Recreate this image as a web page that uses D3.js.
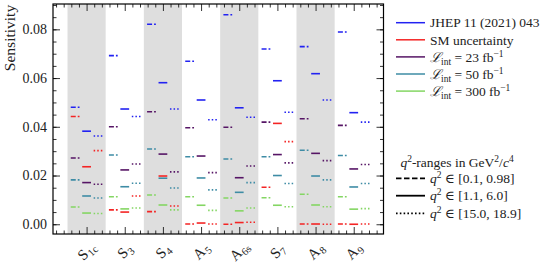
<!DOCTYPE html>
<html><head><meta charset="utf-8">
<script src="https://cdn.jsdelivr.net/npm/d3@7"></script>
<style>
html,body{margin:0;padding:0;background:#fff;}
svg{display:block;font-family:"Liberation Serif","DejaVu Serif",serif;}
</style></head>
<body><svg id="c" width="555" height="270"></svg>
<script>
// ---- data ----
const categories = ["S1c","S3","S4","A5","A6s","S7","A8","A9"];
const catMain = ["S","S","S","A","A","S","A","A"];
const catSub  = ["1c","3","4","5","6s","7","8","9"];
const yTicks = [0.00, 0.02, 0.04, 0.06, 0.08];
const qLabels = ["[0.1, 0.98]","[1.1, 6.0]","[15.0, 18.9]"];
const seriesNames = ["JHEP 11 (2021) 043","SM uncertainty","23","50","300"];
const seriesColors = ["#2222f2","#f42424","#561565","#3e8ca5","#84d663"];

const jhepLow  = [0.0480, 0.0692, 0.0821, 0.0669, 0.0860, 0.0719, 0.0729, 0.0789];
const jhepMid  = [0.0382, 0.0473, 0.0581, 0.0510, 0.0478, 0.0589, 0.0618, 0.0458];
const jhepHigh = [0.0362, 0.0442, 0.0473, 0.0429, 0.0439, 0.0460, 0.0510, 0.0419];
const smLow    = [0.0442, 0.0059, 0.0052, 0.0001, 0.0000, 0.0152, 0.0001, 0.0001];
const smMid    = [0.0236, 0.0050, 0.0198, 0.0005, 0.0007, 0.0414, 0.0001, 0.0000];
const smHigh   = [0.0302, 0.0116, 0.0075, 0.0001, 0.0008, 0.0339, 0.0000, 0.0001];
const l23Low   = [0.0272, 0.0400, 0.0462, 0.0396, 0.0398, 0.0419, 0.0433, 0.0406];
const l23Mid   = [0.0171, 0.0223, 0.0288, 0.0280, 0.0191, 0.0286, 0.0291, 0.0227];
const l23High  = [0.0164, 0.0247, 0.0215, 0.0212, 0.0239, 0.0252, 0.0261, 0.0245];
const l50Low   = [0.0182, 0.0284, 0.0309, 0.0277, 0.0268, 0.0277, 0.0304, 0.0282];
const l50Mid   = [0.0116, 0.0154, 0.0189, 0.0190, 0.0131, 0.0200, 0.0198, 0.0153];
const l50High  = [0.0108, 0.0168, 0.0149, 0.0141, 0.0171, 0.0167, 0.0182, 0.0167];
const l300Low  = [0.0071, 0.0113, 0.0120, 0.0113, 0.0108, 0.0109, 0.0123, 0.0113];
const l300Mid  = [0.0046, 0.0063, 0.0079, 0.0078, 0.0055, 0.0078, 0.0079, 0.0062];
const l300High = [0.0044, 0.0067, 0.0059, 0.0057, 0.0067, 0.0072, 0.0072, 0.0064];

const seriesData = [
  [jhepLow, jhepMid, jhepHigh],
  [smLow, smMid, smHigh],
  [l23Low, l23Mid, l23High],
  [l50Low, l50Mid, l50High],
  [l300Low, l300Mid, l300High]
];

// ---- layout ----
const L = 53, R = 383.5, T = 4, B = 234;
const qOffset = [-0.3, 0, 0.3];
const halfW = 0.115;
const dashes = ["5,2", null, "1.5,2.1"];

const svg = d3.select("#c");
const x = d3.scaleLinear().domain([-0.88, 7.78]).range([L, R]);
const y = d3.scaleLinear().domain([-0.004, 0.0904]).range([B, T]);

// shaded bands
svg.append("g").selectAll("rect")
  .data(categories.map((c,i)=>i).filter(i=>i%2===0))
  .join("rect")
  .attr("x", i=>x(i-0.5)).attr("width", i=>x(i+0.5)-x(i-0.5))
  .attr("y", T).attr("height", B-T)
  .attr("fill", "#dedede");

// segments
const segs = [];
seriesData.forEach((ranges, s) => {
  ranges.forEach((vals, q) => {
    vals.forEach((v, i) => segs.push({s, q, i, v}));
  });
});
svg.append("g").selectAll("line")
  .data(segs).join("line")
  .attr("x1", d=>x(d.i+qOffset[d.q]-halfW))
  .attr("x2", d=>x(d.i+qOffset[d.q]+halfW))
  .attr("y1", d=>y(d.v)).attr("y2", d=>y(d.v))
  .attr("stroke", d=>seriesColors[d.s])
  .attr("stroke-width", 1.6)
  .attr("stroke-dasharray", d=>dashes[d.q]);

// axes with inward ticks
const fmt = d3.format(".2f");
const yMinor = d3.range(0, 0.0905, 0.005);
const xMinor = d3.range(-0.8, 7.8, 0.2).filter(v=>Math.abs(v-Math.round(v))>0.01);
const xMajor = categories.map((c,i)=>i);

function ticks(g, axisGen) { g.call(axisGen); g.select(".domain").remove(); g.selectAll("line").attr("stroke","#000").attr("stroke-width",0.8); }

svg.append("g").attr("transform",`translate(${L},0)`)
  .call(g=>ticks(g, d3.axisRight(y).tickValues(yMinor).tickSize(3.5).tickFormat("")));
svg.append("g").attr("transform",`translate(${L},0)`)
  .call(g=>ticks(g, d3.axisRight(y).tickValues(yTicks).tickSize(7).tickFormat("")));
svg.append("g").attr("transform",`translate(${R},0)`)
  .call(g=>ticks(g, d3.axisLeft(y).tickValues(yMinor).tickSize(3.5).tickFormat("")));
svg.append("g").attr("transform",`translate(${R},0)`)
  .call(g=>ticks(g, d3.axisLeft(y).tickValues(yTicks).tickSize(7).tickFormat("")));
svg.append("g").attr("transform",`translate(0,${B})`)
  .call(g=>ticks(g, d3.axisTop(x).tickValues(xMinor).tickSize(3.5).tickFormat("")));
svg.append("g").attr("transform",`translate(0,${B})`)
  .call(g=>ticks(g, d3.axisTop(x).tickValues(xMajor).tickSize(7).tickFormat("")));
svg.append("g").attr("transform",`translate(0,${T})`)
  .call(g=>ticks(g, d3.axisBottom(x).tickValues(xMinor).tickSize(3.5).tickFormat("")));
svg.append("g").attr("transform",`translate(0,${T})`)
  .call(g=>ticks(g, d3.axisBottom(x).tickValues(xMajor).tickSize(7).tickFormat("")));

svg.append("rect").attr("x",L).attr("y",T).attr("width",R-L).attr("height",B-T)
  .attr("fill","none").attr("stroke","#000").attr("stroke-width",1.2);

// y tick labels
svg.append("g").selectAll("text").data(yTicks).join("text")
  .attr("x", L-6).attr("y", d=>y(d)).attr("dy","0.35em")
  .attr("text-anchor","end").attr("font-size",14).attr("fill","#222")
  .text(d=>fmt(d));

// y label
svg.append("text").attr("transform","translate(15,38) rotate(-90)")
  .attr("text-anchor","middle").attr("font-size",15.5).attr("fill","#222")
  .text("Sensitivity");

// x tick labels (rotated 45 degrees), upright font
const xlab = svg.append("g");
xMajor.forEach(i => {
  const m = xlab.append("text")
    .attr("font-size",15).attr("fill","#222").text(catMain[i]);
  const mw = m.node().getComputedTextLength();
  const s = xlab.append("text")
    .attr("font-size",10.5).attr("fill","#222").text(catSub[i]);
  const sw = s.node().getComputedTextLength();
  const x0 = -(mw + 0.5 + sw) / 2;
  m.attr("transform", `translate(${x(i)},251) rotate(-45) translate(${x0},5)`);
  s.attr("transform", `translate(${x(i)},251) rotate(-45) translate(${x0 + mw + 0.5},8)`);
});

// legend 1
const lg1 = svg.append("g");
const lgY = [22.7, 39.8, 56.9, 74, 91.1];
seriesNames.forEach((n, s) => {
  lg1.append("line").attr("x1",396).attr("x2",425).attr("y1",lgY[s]).attr("y2",lgY[s])
    .attr("stroke",seriesColors[s]).attr("stroke-width",1.5);
  const t = lg1.append("text").attr("x",430).attr("y",lgY[s]).attr("dy","0.35em")
    .attr("font-size",13.5).attr("fill","#222");
  if (s < 2) { t.text(n); }
  else {
    t.append("tspan").attr("font-style","italic").text("ℒ");
    t.append("tspan").attr("font-size",9.5).attr("dy",3).text("int");
    t.append("tspan").attr("dy",-3).text(" = " + n + " fb");
    t.append("tspan").attr("font-size",9.5).attr("dy",-5).text("−1");
  }
});

// legend 2
const lg2 = svg.append("g");
const t2 = lg2.append("text").attr("x",457).attr("y",162.3).attr("dy","0.35em")
  .attr("text-anchor","middle").attr("font-size",13.5).attr("fill","#222");
t2.append("tspan").attr("font-style","italic").text("q");
t2.append("tspan").attr("font-size",9.5).attr("dy",-5).text("2");
t2.append("tspan").attr("dy",5).text("-ranges in GeV");
t2.append("tspan").attr("font-size",9.5).attr("dy",-5).text("2");
t2.append("tspan").attr("dy",5).text("/");
t2.append("tspan").attr("font-style","italic").text("c");
t2.append("tspan").attr("font-size",9.5).attr("dy",-5).text("4");
const lg2Y = [178.3, 195.7, 213.3];
qLabels.forEach((lab, q) => {
  lg2.append("line").attr("x1",396).attr("x2",425).attr("y1",lg2Y[q]).attr("y2",lg2Y[q])
    .attr("stroke","#000").attr("stroke-width",1.8).attr("stroke-dasharray", q===0?"5.5,2.5":(q===2?"1.6,2.2":null));
  const t = lg2.append("text").attr("x",430).attr("y",lg2Y[q]).attr("dy","0.35em")
    .attr("font-size",13.5).attr("fill","#222");
  t.append("tspan").attr("font-style","italic").text("q");
  t.append("tspan").attr("font-size",9.5).attr("dy",-5).text("2");
  t.append("tspan").attr("dy",5).text(" ∈ " + lab);
});
</script></body></html>
